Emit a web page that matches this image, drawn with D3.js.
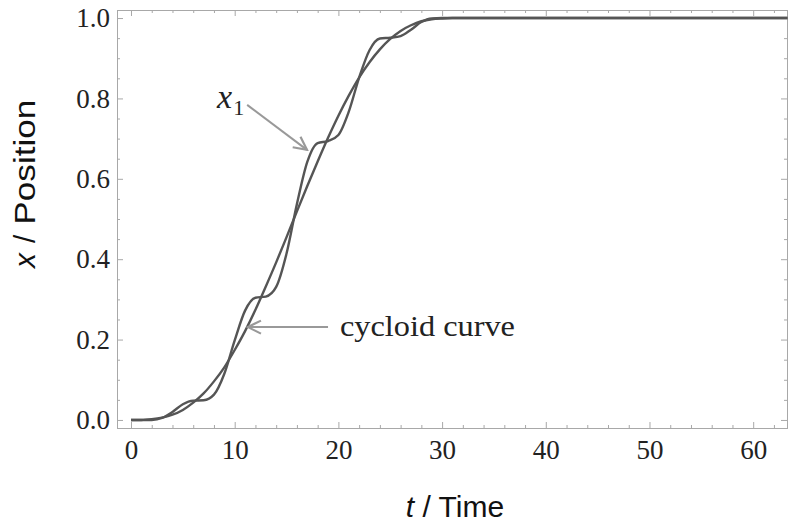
<!DOCTYPE html>
<html>
<head>
<meta charset="utf-8">
<script src="https://cdn.jsdelivr.net/npm/d3@7"></script>
<style>
  body { margin: 0; background: #fff; }
</style>
</head>
<body>
<div id="chart"></div>
<script>
// Values (t step 1 up to 31, then flat to the right edge)
const times = [0, 1, 2, 3, 4, 5, 6, 7, 8, 9, 10, 11, 12, 13, 14, 15, 16, 17, 18, 19, 20,
    21, 22, 23, 24, 25, 26, 27, 28, 29, 30, 31, 32, 63.3];
const cycloid = [0, 0, 0.002, 0.006, 0.013, 0.025, 0.043, 0.066, 0.096, 0.131, 0.174,
    0.221, 0.274, 0.332, 0.392, 0.455, 0.519, 0.582, 0.643, 0.702, 0.757,
    0.807, 0.852, 0.890, 0.922, 0.948, 0.968, 0.982, 0.992, 0.997, 0.999, 1, 1, 1];
const x1 = [0, 0, 0, 0.005, 0.020, 0.039, 0.048, 0.049, 0.063, 0.115, 0.198,
    0.272, 0.304, 0.307, 0.331, 0.414, 0.537, 0.642, 0.689, 0.694, 0.709,
    0.767, 0.852, 0.920, 0.949, 0.951, 0.955, 0.971, 0.990, 0.999, 1, 1, 1, 1];
const xTicks = [0, 10, 20, 30, 40, 50, 60];
const yTicks = [0, 0.2, 0.4, 0.6, 0.8, 1.0];

const W = 790, H = 527;
const frame = {left: 117, right: 787, top: 10, bottom: 428};

const svg = d3.select("#chart").append("svg")
    .attr("width", W)
    .attr("height", H)
    .style("font-family", "'Liberation Serif', serif");

const x = d3.scaleLinear().domain([-1.35, 63.26]).range([frame.left, frame.right]);
const y = d3.scaleLinear().domain([-0.02, 1.02]).range([frame.bottom, frame.top]);

const frameColor = "#a8a8a8";
const xMinor = d3.range(0, 64, 2).filter(v => v % 10 !== 0);
const yMinor = d3.range(0, 1.01, 0.05).filter((v, i) => i % 4 !== 0);

// Frame with inward ticks on all four sides
function styleAxis(g) {
    g.select(".domain").remove();
    g.selectAll(".tick line").attr("stroke", frameColor).attr("stroke-width", 1);
    g.selectAll(".tick text")
        .attr("fill", "#222")
        .attr("font-size", 27)
        .attr("font-family", "'Liberation Serif', serif");
}

svg.append("g").attr("transform", `translate(0,${frame.bottom})`)
    .call(d3.axisBottom(x).tickValues(xTicks).tickSize(-6).tickPadding(12).tickFormat(d3.format("d")))
    .call(styleAxis);
svg.append("g").attr("transform", `translate(0,${frame.bottom})`)
    .call(d3.axisBottom(x).tickValues(xMinor).tickSize(-3).tickFormat(""))
    .call(styleAxis);
svg.append("g").attr("transform", `translate(0,${frame.top})`)
    .call(d3.axisTop(x).tickValues(xTicks).tickSize(-6).tickFormat(""))
    .call(styleAxis);
svg.append("g").attr("transform", `translate(0,${frame.top})`)
    .call(d3.axisTop(x).tickValues(xMinor).tickSize(-3).tickFormat(""))
    .call(styleAxis);

svg.append("g").attr("transform", `translate(${frame.left},0)`)
    .call(d3.axisLeft(y).tickValues(yTicks).tickSize(-6).tickPadding(7).tickFormat(d3.format(".1f")))
    .call(styleAxis);
svg.append("g").attr("transform", `translate(${frame.left},0)`)
    .call(d3.axisLeft(y).tickValues(yMinor).tickSize(-3).tickFormat(""))
    .call(styleAxis);
svg.append("g").attr("transform", `translate(${frame.right},0)`)
    .call(d3.axisRight(y).tickValues(yTicks).tickSize(-6).tickFormat(""))
    .call(styleAxis);
svg.append("g").attr("transform", `translate(${frame.right},0)`)
    .call(d3.axisRight(y).tickValues(yMinor).tickSize(-3).tickFormat(""))
    .call(styleAxis);

svg.append("rect")
    .attr("x", frame.left + 0.5)
    .attr("y", frame.top + 0.5)
    .attr("width", frame.right - frame.left)
    .attr("height", frame.bottom - frame.top)
    .attr("fill", "none")
    .attr("stroke", frameColor)
    .attr("stroke-width", 1);

// Curves
const line = d3.line()
    .x((d, i) => x(times[i]))
    .y(d => y(d))
    .curve(d3.curveMonotoneX);

svg.append("g")
    .selectAll("path")
    .data([cycloid, x1])
    .enter()
    .append("path")
    .attr("d", line)
    .attr("fill", "none")
    .attr("stroke", "#555")
    .attr("stroke-width", 2.4);

// Annotations
const arrowColor = "#999";
svg.append("defs").append("marker")
    .attr("id", "vhead")
    .attr("markerUnits", "userSpaceOnUse")
    .attr("viewBox", "-1 -8 16 16")
    .attr("markerWidth", 16)
    .attr("markerHeight", 16)
    .attr("refX", 13)
    .attr("refY", 0)
    .attr("orient", "auto")
    .append("path")
    .attr("d", "M0,-6.5L13,0L0,6.5")
    .attr("fill", "none")
    .attr("stroke", arrowColor)
    .attr("stroke-width", 2.2);

svg.append("line")
    .attr("x1", x(11.2)).attr("y1", y(0.784))
    .attr("x2", x(16.97)).attr("y2", y(0.672))
    .attr("stroke", arrowColor)
    .attr("stroke-width", 2)
    .attr("marker-end", "url(#vhead)");

svg.append("line")
    .attr("x1", x(19.0)).attr("y1", y(0.231))
    .attr("x2", x(11.28)).attr("y2", y(0.231))
    .attr("stroke", arrowColor)
    .attr("stroke-width", 2)
    .attr("marker-end", "url(#vhead)");

const x1Label = svg.append("text")
    .attr("x", x(8.3))
    .attr("y", y(0.776))
    .attr("font-size", 34)
    .attr("fill", "#222");
x1Label.append("tspan").attr("font-style", "italic").text("x");
x1Label.append("tspan").attr("font-size", 22).attr("dx", 1).attr("dy", 7).text("1");

svg.append("text")
    .attr("x", x(20.15))
    .attr("y", y(0.209))
    .attr("font-size", 30)
    .attr("textLength", 175)
    .attr("lengthAdjust", "spacingAndGlyphs")
    .attr("fill", "#222")
    .text("cycloid curve");

// Axis titles
const xTitle = svg.append("text")
    .attr("x", 455)
    .attr("y", 517)
    .attr("text-anchor", "middle")
    .attr("font-family", "'Liberation Sans', sans-serif")
    .attr("font-size", 30)
    .attr("fill", "#111");
xTitle.append("tspan").attr("font-style", "italic").text("t");
xTitle.append("tspan").attr("xml:space", "preserve").text(" / Time");

const yTitle = svg.append("text")
    .attr("transform", "translate(35,268) rotate(-90)")
    .attr("font-family", "'Liberation Sans', sans-serif")
    .attr("font-size", 30)
    .attr("fill", "#111");
yTitle.append("tspan").attr("font-style", "italic").text("x");
yTitle.append("tspan").attr("dx", 10).text("/");
yTitle.append("tspan").attr("dx", 10).attr("textLength", 125)
    .attr("lengthAdjust", "spacingAndGlyphs").text("Position");
</script>
</body>
</html>
